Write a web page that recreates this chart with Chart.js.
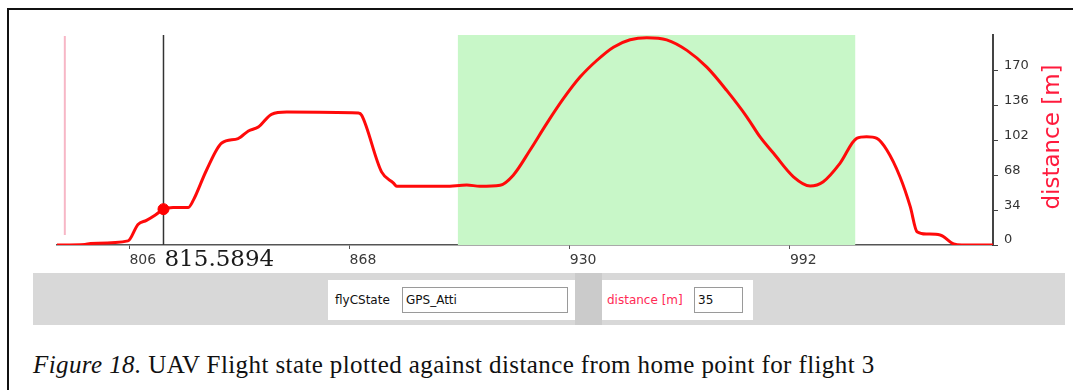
<!DOCTYPE html>
<html>
<head>
<meta charset="utf-8">
<script src="https://cdn.jsdelivr.net/npm/chart.js@4/dist/chart.umd.min.js"></script>
<style>
  html, body { margin: 0; padding: 0; background: #fff; }
  body { width: 1073px; height: 390px; position: relative; overflow: hidden; font-family: "DejaVu Sans", sans-serif; }
  #frame { position: absolute; left: 7px; top: 8px; width: 1100px; height: 400px; border-left: 2.5px solid #111; border-top: 2.5px solid #111; box-sizing: border-box; }
  #wrap { position: absolute; left: 0; top: 0; width: 1073px; height: 273px; }
  #panel { position: absolute; left: 33px; top: 273px; width: 1032px; height: 52px; background: #d8d8d8; }
  #gap { position: absolute; left: 575px; top: 273px; width: 27px; height: 52px; background: #cbcbcb; }
  .box { position: absolute; top: 280px; height: 40px; background: #fff; }
  .lbl { position: absolute; top: 292px; font-size: 12px; line-height: 16px; }
  .inp { position: absolute; top: 287px; height: 26px; border: 1px solid #9a9a9a; background: #fff; box-sizing: border-box; font-size: 12px; line-height: 24px; padding-left: 3px; color: #111; }
  #caption { position: absolute; left: 33px; top: 352px; font-family: "Liberation Serif", serif; font-size: 25px; line-height: 25px; letter-spacing: 0.4px; color: #111; white-space: nowrap; }
</style>
</head>
<body>
<div id="frame"></div>
<div id="wrap"><canvas id="c" width="1073" height="273"></canvas></div>
<div id="panel"></div>
<div id="gap"></div>
<div class="box" style="left:328px;width:247px;"></div>
<div class="lbl" style="left:335px;color:#111;">flyCState</div>
<div class="inp" style="left:402px;width:166px;">GPS_Atti</div>
<div class="box" style="left:602px;width:151px;"></div>
<div class="lbl" style="left:607px;color:#ff2a55;">distance [m]</div>
<div class="inp" style="left:694px;width:49px;">35</div>
<div id="caption"><i>Figure 18.</i> UAV Flight state plotted against distance from home point for flight 3</div>
<script>
// ---- data ----
const timeValues = [785.5, 793.5, 795, 805.6, 808.4, 810.8, 813.2, 815.5894, 818.3, 822.6, 824, 827.7, 832, 836.6, 839.5, 842.3, 846, 850.3, 870.5, 871.4, 877, 880.3, 881.3, 895, 901, 904.7, 910.4, 914.1, 918.8, 923.5, 928.2, 932.9, 937.6, 942.3, 947, 951.7, 957.3, 963, 968.6, 974.2, 979.9, 983.6, 987.4, 993, 997.7, 1001.4, 1006.1, 1010.8, 1013.6, 1016.5, 1019.3, 1023, 1025.9, 1027.8, 1030.6, 1034.3, 1038.1, 1040.4, 1049.3];
const distanceValues = [0, 0.5, 1.5, 4, 20, 24, 29, 35, 36.7, 36.7, 43.8, 73, 99.6, 103.9, 111.3, 115.2, 127.6, 129.8, 128.8, 126.6, 71.4, 60.7, 57.4, 57.4, 58.5, 57.4, 58.4, 68.2, 92.5, 118.5, 142.8, 163.9, 180.1, 193.1, 200.3, 202.4, 200.3, 190, 173.6, 150.9, 124.9, 105.5, 89.5, 66.6, 57.6, 61.8, 79.7, 104.1, 105.7, 104.1, 92.7, 66.6, 37.4, 13, 10.7, 9.8, 1, 0, 0];
const xTickValues = [806, 868, 930, 992];
const yTickValues = [0, 34, 68, 102, 136, 170];
const xRange = [785.6, 1049.2];
const yRange = [0, 205];
const cursorTime = 815.5894;
const cursorDistance = 35;
const cursorLabel = "815.5894";
const markerTime = 787.8;            // pale pink marker line
const gpsAttiSpan = [898.5, 1010.4]; // green highlighted state band
const axisTitle = "distance [m]";

const lineData = timeValues.map((t, i) => ({ x: t, y: distanceValues[i] }));

const overlay = {
  id: 'overlay',
  beforeDatasetsDraw(chart) {
    const { ctx, chartArea: a, scales: { x, y } } = chart;
    ctx.save();
    const gx0 = x.getPixelForValue(gpsAttiSpan[0]);
    const gx1 = x.getPixelForValue(gpsAttiSpan[1]);
    ctx.fillStyle = 'rgb(200,247,200)';
    ctx.fillRect(gx0, a.top, gx1 - gx0, a.bottom - a.top);
    const px = x.getPixelForValue(markerTime);
    ctx.strokeStyle = '#f7b7c6';
    ctx.lineWidth = 2;
    ctx.beginPath(); ctx.moveTo(px, a.top + 1); ctx.lineTo(px, a.bottom - 10); ctx.stroke();
    const cx = x.getPixelForValue(cursorTime);
    ctx.strokeStyle = '#333';
    ctx.lineWidth = 1.5;
    ctx.beginPath(); ctx.moveTo(cx, a.top); ctx.lineTo(cx, a.bottom); ctx.stroke();
    ctx.restore();
  },
  afterDraw(chart) {
    const { ctx, scales: { x } } = chart;
    ctx.save();
    const cx = x.getPixelForValue(cursorTime);
    ctx.fillStyle = '#1a1a1a';
    ctx.font = '23px "DejaVu Serif", serif';
    ctx.textAlign = 'left';
    ctx.textBaseline = 'alphabetic';
    ctx.fillText(cursorLabel, cx + 1, 266);
    ctx.translate(1053, 137);
    ctx.rotate(-Math.PI / 2);
    ctx.fillStyle = '#ff1a3c';
    ctx.font = '23px "DejaVu Sans", sans-serif';
    ctx.textAlign = 'center';
    ctx.textBaseline = 'middle';
    ctx.fillText(axisTitle, 0, 0);
    ctx.restore();
  }
};

new Chart(document.getElementById('c'), {
  type: 'line',
  data: {
    datasets: [
      {
        data: lineData,
        borderColor: '#ff0a0a',
        borderWidth: 3,
        pointRadius: 0,
        cubicInterpolationMode: 'monotone',
        fill: false,
        order: 2
      },
      {
        type: 'scatter',
        data: [{ x: cursorTime, y: cursorDistance }],
        pointRadius: 5.5,
        backgroundColor: '#ff0000',
        borderColor: '#ff0000',
        order: 1
      }
    ]
  },
  options: {
    responsive: false,
    devicePixelRatio: 1,
    animation: false,
    layout: { padding: { left: 57, top: 35, right: 0, bottom: 0 } },
    plugins: { legend: { display: false }, tooltip: { enabled: false } },
    scales: {
      x: {
        type: 'linear',
        min: xRange[0],
        max: xRange[1],
        afterBuildTicks: s => { s.ticks = xTickValues.map(v => ({ value: v })); },
        afterFit: s => { s.height = 28; },
        grid: { drawOnChartArea: false, drawTicks: true, tickLength: 4, color: '#555' },
        border: { display: true, color: '#555', width: 1.5 },
        ticks: {
          align: 'start',
          maxRotation: 0, minRotation: 0,
          padding: 3,
          color: '#3a3a3a',
          font: { family: 'DejaVu Sans', size: 14 },
          callback: v => String(v)
        }
      },
      y: {
        type: 'linear',
        position: 'right',
        min: yRange[0],
        max: yRange[1],
        afterBuildTicks: s => { s.ticks = yTickValues.map(v => ({ value: v })); },
        afterFit: s => { s.width = 80; },
        grid: { drawOnChartArea: false, drawTicks: true, tickLength: 5, color: '#444' },
        border: { display: true, color: '#444', width: 2 },
        ticks: {
          padding: 6,
          labelOffset: -5,
          color: '#333',
          font: { family: 'DejaVu Sans', size: 13 },
          callback: v => String(v)
        }
      }
    }
  },
  plugins: [overlay]
});
</script>
</body>
</html>
